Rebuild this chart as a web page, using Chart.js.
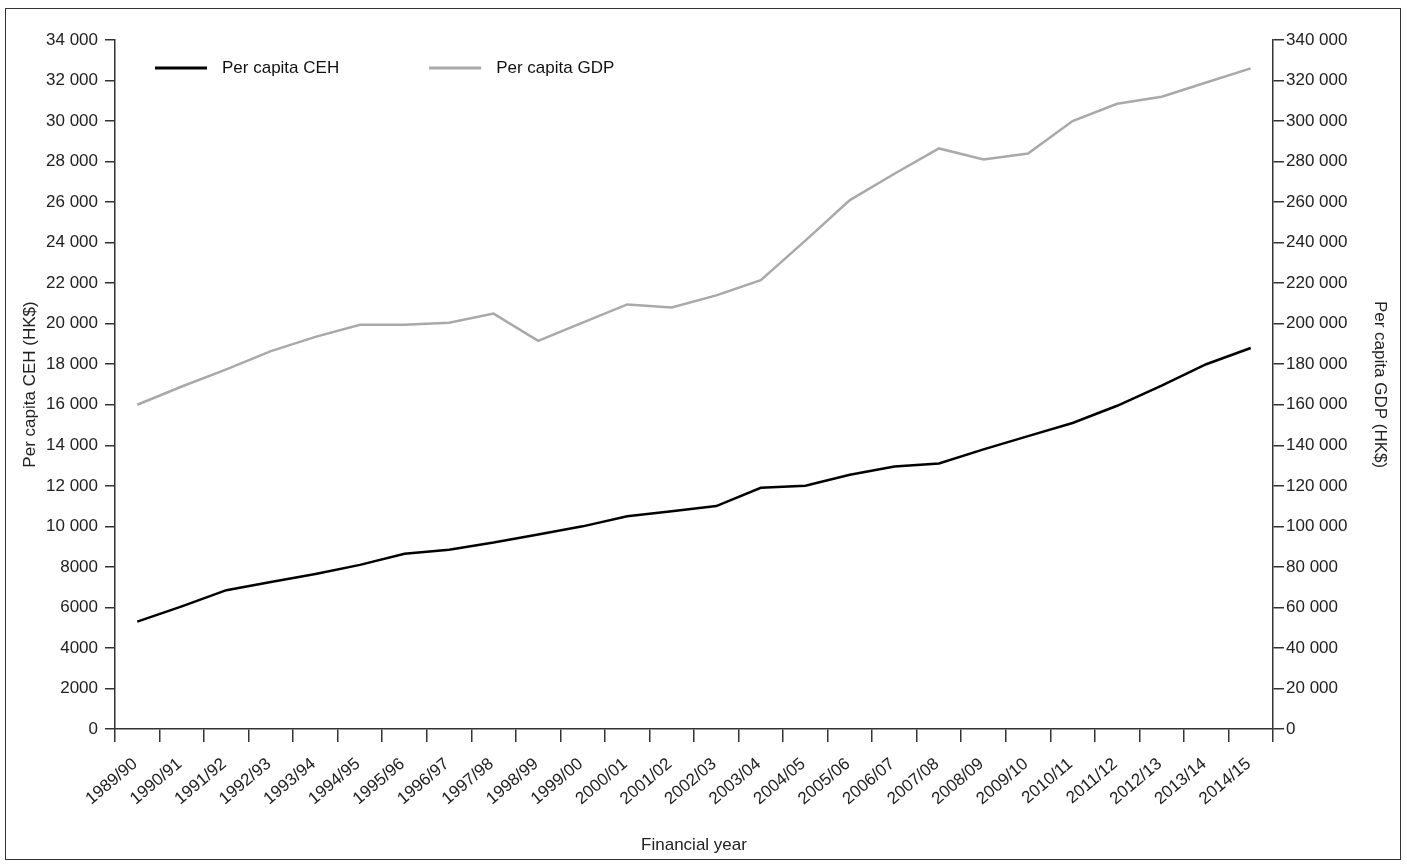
<!DOCTYPE html>
<html lang="en">
<head>
  <meta charset="UTF-8">
  <title>Per capita CEH and GDP</title>
  <script src="https://cdn.jsdelivr.net/npm/chart.js"></script>
  <style>
    body { margin: 0; background: #ffffff; }
    #wrap { position: absolute; left: 0; top: 0; width: 1407px; height: 864px; }
    #frame {
      position: absolute; left: 5px; top: 8px; width: 1394px; height: 850px;
      border: 1.5px solid #333; pointer-events: none;
    }
  </style>
</head>
<body>
  <div id="wrap">
    <canvas id="chart" width="1407" height="864"></canvas>
    <div id="frame"></div>
  </div>

<script>
  // financial years along the x axis
  const years = ['1989/90', '1990/91', '1991/92', '1992/93', '1993/94', '1994/95', '1995/96',
    '1996/97', '1997/98', '1998/99', '1999/00', '2000/01', '2001/02', '2002/03', '2003/04',
    '2004/05', '2005/06', '2006/07', '2007/08', '2008/09', '2009/10', '2010/11', '2011/12',
    '2012/13', '2013/14', '2014/15'];

  // per capita current expenditure on health (left axis, HK$)
  const cehValues = [5300, 6050, 6850, 7250, 7650, 8100, 8650, 8850, 9200, 9600, 10000,
    10500, 10750, 11000, 11900, 12000, 12550, 12950, 13100, 13800, 14450, 15100, 15950,
    16950, 18000, 18800];

  // per capita GDP (right axis, HK$)
  const gdpValues = [160000, 169000, 177500, 186500, 193500, 199500, 199500, 200500, 205000,
    191500, 200500, 209500, 208000, 214000, 221500, 241000, 261000, 274000, 286500, 281000,
    284000, 300000, 308500, 312000, 319000, 326000];

  const fontFamily = '"Liberation Sans", Arial, sans-serif';
  const axisColor = '#333333';

  // "34 000" style, but plain below 10 000 on the left axis
  function spaced(v) {
    return String(v).replace(/\B(?=(\d{3})+(?!\d))/g, ' ');
  }

  // one-row legend sitting inside the plot area
  const innerLegend = {
    id: 'innerLegend',
    afterDraw(chart) {
      const ctx = chart.ctx;
      const area = chart.chartArea;
      let x = area.left + 40;
      const y = area.top + 28;
      ctx.save();
      ctx.font = '17px ' + fontFamily;
      ctx.textBaseline = 'middle';
      chart.data.datasets.forEach(ds => {
        ctx.strokeStyle = ds.borderColor;
        ctx.lineWidth = 3;
        ctx.beginPath();
        ctx.moveTo(x, y);
        ctx.lineTo(x + 52, y);
        ctx.stroke();
        ctx.fillStyle = '#111111';
        ctx.fillText(ds.label, x + 67, y);
        x += 67 + ctx.measureText(ds.label).width + 90;
      });
      ctx.restore();
    }
  };

  Chart.defaults.font.family = fontFamily;
  Chart.defaults.font.size = 17;
  Chart.defaults.color = '#222222';

  new Chart(document.getElementById('chart'), {
    type: 'line',
    data: {
      labels: years,
      datasets: [{
        label: 'Per capita CEH',
        data: cehValues,
        borderColor: '#000000',
        backgroundColor: '#000000',
        borderWidth: 2.5,
        pointRadius: 0,
        tension: 0,
        yAxisID: 'yLeft'
      }, {
        label: 'Per capita GDP',
        data: gdpValues,
        borderColor: '#a9a9a9',
        backgroundColor: '#a9a9a9',
        borderWidth: 2.5,
        pointRadius: 0,
        tension: 0,
        yAxisID: 'yRight'
      }]
    },
    plugins: [innerLegend],
    options: {
      responsive: false,
      animation: false,
      layout: { padding: { left: 10, right: 10, top: 40, bottom: 8 } },
      plugins: {
        tooltip: { enabled: false },
        legend: { display: false }
      },
      scales: {
        x: {
          offset: true,
          grid: { offset: true, drawOnChartArea: false, color: axisColor, tickLength: 13, lineWidth: 1.5 },
          border: { color: axisColor, width: 1.5 },
          ticks: { minRotation: 40, maxRotation: 40, labelOffset: -2, autoSkip: false, padding: 12 },
          title: { display: true, text: 'Financial year', padding: { top: 4, bottom: 0 } },
          afterFit: function (scale) { scale.height = 864 - 729 - 8; }
        },
        yLeft: {
          position: 'left',
          min: 0,
          max: 34000,
          grid: { drawOnChartArea: false, color: axisColor, tickLength: 10, lineWidth: 1.5 },
          border: { color: axisColor, width: 1.5 },
          ticks: {
            stepSize: 2000,
            padding: 7,
            callback: function (v) { return v >= 10000 ? spaced(v) : String(v); }
          },
          title: { display: true, text: 'Per capita CEH (HK$)', padding: { top: 10, bottom: 4 } },
          afterFit: function (scale) { scale.width = 115 - 10; }
        },
        yRight: {
          position: 'right',
          min: 0,
          max: 340000,
          grid: { drawOnChartArea: false, color: axisColor, tickLength: 11, lineWidth: 1.5 },
          border: { color: axisColor, width: 1.5 },
          ticks: {
            stepSize: 20000,
            padding: 2,
            callback: function (v) { return spaced(v); }
          },
          title: { display: true, text: 'Per capita GDP (HK$)', padding: { top: 7, bottom: 4 } },
          afterFit: function (scale) { scale.width = 1407 - 1273 - 10; }
        }
      }
    }
  });
</script>
</body>
</html>
